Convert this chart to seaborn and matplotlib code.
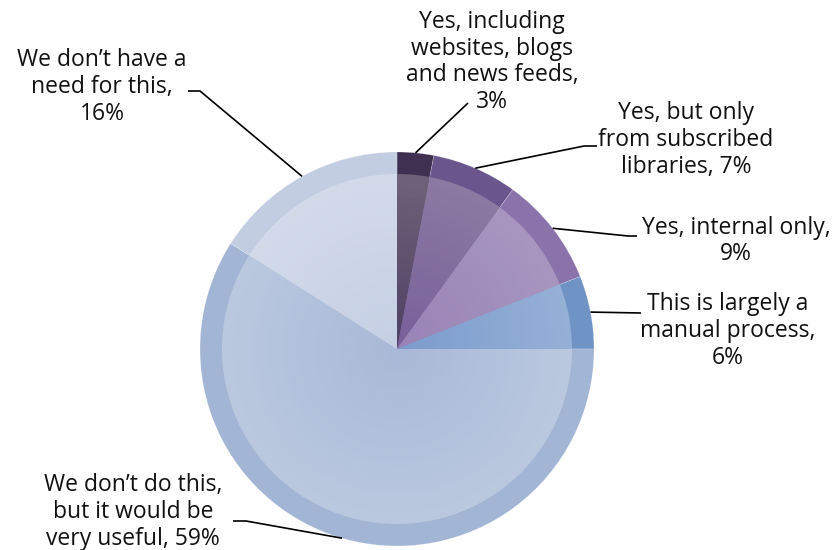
import numpy as np
import matplotlib
matplotlib.use("Agg")
import matplotlib.pyplot as plt
import seaborn as sns
from matplotlib.colors import to_rgb

# ---- data ----
categories = [
    "Yes, including\nwebsites, blogs\nand news feeds,\n3%",
    "Yes, but only\nfrom subscribed\nlibraries, 7%",
    "Yes, internal only,\n9%",
    "This is largely a\nmanual process,\n6%",
    "We don\u2019t do this,\nbut it would be\nvery useful, 59%",
    "We don\u2019t have a\nneed for this,\n16%",
]
values = [3, 7, 9, 6, 59, 16]

# ---- styling ----
rim_colors = ["#3f3052", "#6a558c", "#8a73aa", "#7093c6", "#a3b5d4", "#c3cde2"]
inner_edge = ["#6e6179", "#8b79a2", "#a795bf", "#95b0d6", "#bac8df", "#d2daea"]
inner_center = ["#4f3f63", "#775f99", "#9882b6", "#7b9bcd", "#a8b8d6", "#c5cfe4"]

sns.set_theme(style="white")
plt.rcParams["font.family"] = ["Open Sans", "DejaVu Sans"]

W, H = 836, 550
fig = plt.figure(figsize=(W / 100, H / 100), dpi=100)
ax = fig.add_axes([0, 0, 1, 1])
ax.set_xlim(0, W)
ax.set_ylim(0, H)
ax.set_aspect("equal")
ax.axis("off")

cx, cy, R = 397, H - 349, 197
r_in = 175

# outer rim
ax.pie(values, colors=rim_colors, startangle=90, counterclock=False,
       center=(cx, cy), radius=R, frame=True,
       wedgeprops=dict(linewidth=0.4, edgecolor=(1, 1, 1, 0.35)))
# inner radial gradient
n = 30
for k in range(n):
    t = 1 - k / n
    rad = r_in * t
    cols = []
    for e, c in zip(inner_edge, inner_center):
        e, c = np.array(to_rgb(e)), np.array(to_rgb(c))
        cols.append(tuple(c + (e - c) * t))
    ax.pie(values, colors=cols, startangle=90, counterclock=False,
           center=(cx, cy), radius=rad, frame=True,
           wedgeprops=dict(linewidth=0))
ax.set_xlim(0, W)
ax.set_ylim(0, H)
ax.axis("off")

# label positions (pixel coordinates, y from top) and leader elbows
label_pos = [(492, 62), (686, 140), (736, 241), (728, 331), (133, 512), (102, 87)]
elbows = [
    [(468, 103)],
    [(584, 146), (597, 146)],
    [(628, 236), (637, 236)],
    [(641, 313)],
    [(246, 521), (233, 521)],
    [(200, 91), (188, 91)],
]

total = sum(values)
cum = 0
for val, lab, (tx, ty), el in zip(values, categories, label_pos, elbows):
    mid = cum + val / 2
    cum += val
    ang = np.deg2rad(90 - 360 * mid / total)
    px, py = cx + R * np.cos(ang), cy + R * np.sin(ang)
    xs = [px] + [p[0] for p in el]
    ys = [py] + [H - p[1] for p in el]
    ax.plot(xs, ys, color="black", lw=1.2, solid_capstyle="butt")
    ax.text(tx, H - ty, lab, ha="center", va="center", multialignment="center",
            fontsize=16.5, color="#111111", linespacing=1.16)

fig.savefig("out.png", dpi=100)
